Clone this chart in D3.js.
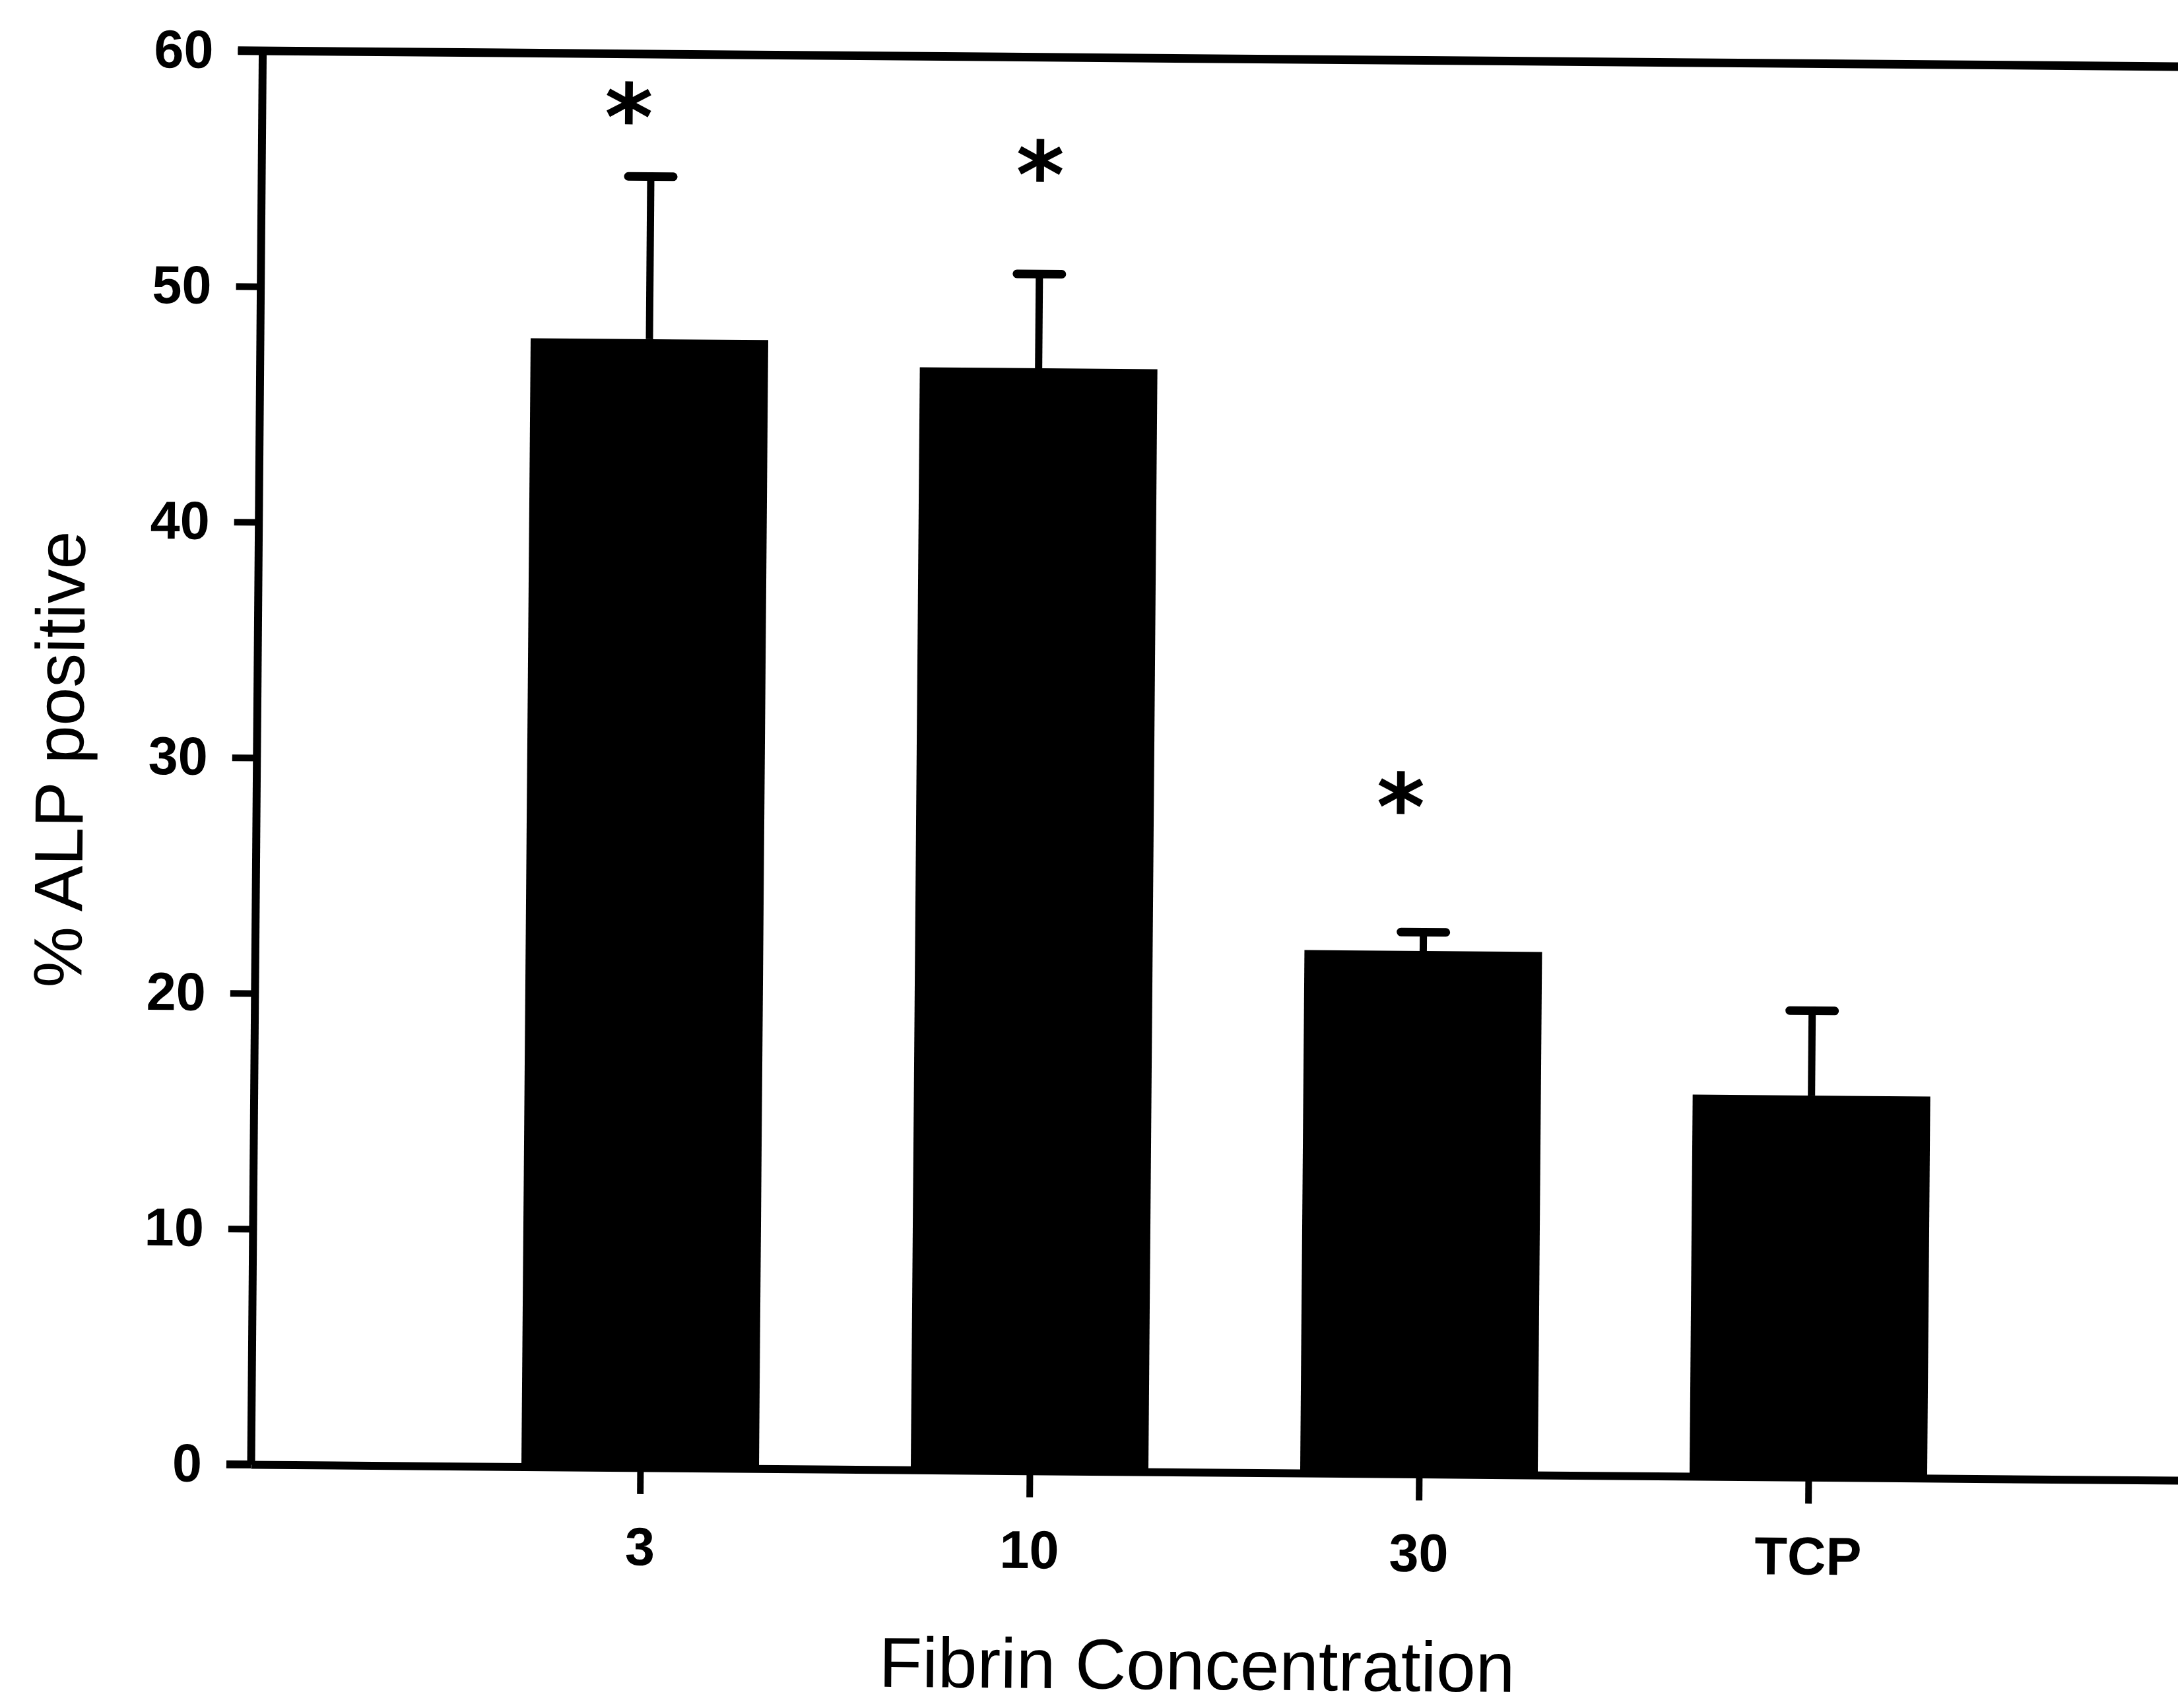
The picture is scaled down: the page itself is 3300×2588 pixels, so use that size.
<!DOCTYPE html>
<html>
<head>
<meta charset="utf-8">
<script src="https://cdn.jsdelivr.net/npm/d3@7"></script>
<style>
  body { margin: 0; background: #fff; }
</style>
</head>
<body>
<svg id="chart" width="3300" height="2588"></svg>
<script>
// values
const categories = ["3", "10", "30", "TCP"];
const alpPositive = [47.9, 46.8, 22.2, 16.2];
const alpError = [6.9, 4.0, 0.8, 3.6];
const starLevels = [57.8, 55.5, 28.8, null];
const yTicks = [0, 10, 20, 30, 40, 50, 60];

const font = "'Liberation Sans', Arial, sans-serif";
const plotH = 2142;

const svg = d3.select("#chart");

// the scanned figure is tilted by about half a degree
const g = svg.append("g")
  .attr("transform", `translate(380,77) rotate(0.47 0 ${plotH})`);

const x = d3.scaleLinear().domain([0, 5]).range([0, 2950]);
const y = d3.scaleLinear().domain([0, 60]).range([plotH, 0]);

const barW = 360;

// bars
g.selectAll("rect.bar")
  .data(alpPositive)
  .enter().append("rect")
  .attr("class", "bar")
  .attr("x", (d, i) => x(i + 1) - barW / 2)
  .attr("y", d => y(d))
  .attr("width", barW)
  .attr("height", d => y(0) - y(d))
  .attr("fill", "#000");

// error bars, upper half only
const err = g.selectAll("g.err")
  .data(alpPositive)
  .enter().append("g")
  .attr("class", "err");

err.append("line")
  .attr("x1", (d, i) => x(i + 1))
  .attr("x2", (d, i) => x(i + 1))
  .attr("y1", d => y(d))
  .attr("y2", (d, i) => y(d + alpError[i]))
  .attr("stroke", "#000")
  .attr("stroke-width", 11);

err.append("line")
  .attr("x1", (d, i) => x(i + 1) - 34)
  .attr("x2", (d, i) => x(i + 1) + 34)
  .attr("y1", (d, i) => y(d + alpError[i]))
  .attr("y2", (d, i) => y(d + alpError[i]))
  .attr("stroke", "#000")
  .attr("stroke-width", 13)
  .attr("stroke-linecap", "round");

// significance marks
const starShift = [-34, 0, -36, 0];
g.selectAll("text.star")
  .data(starLevels.map((v, i) => ({ v, i })).filter(d => d.v !== null))
  .enter().append("text")
  .attr("class", "star")
  .attr("x", d => x(d.i + 1) + starShift[d.i])
  .attr("y", d => y(d.v))
  .attr("dy", "0.48em")
  .attr("text-anchor", "middle")
  .attr("font-family", "'DejaVu Sans', sans-serif")
  .attr("font-weight", "bold")
  .attr("font-size", 140)
  .text("*");

// y axis
const yAxis = g.append("g")
  .call(d3.axisLeft(y).tickValues(yTicks).tickSize(37).tickSizeOuter(0).tickPadding(37));

// x axis
const xAxis = g.append("g")
  .attr("transform", `translate(0,${plotH})`)
  .call(d3.axisBottom(x).tickValues([1, 2, 3, 4])
    .tickFormat(i => categories[i - 1])
    .tickSize(40).tickSizeOuter(0).tickPadding(50));

[yAxis, xAxis].forEach(a => {
  a.attr("font-family", font).attr("font-size", 81);
  a.select(".domain").attr("stroke", "#000").attr("stroke-width", 12);
  a.selectAll(".tick line").attr("stroke", "#000").attr("stroke-width", 10);
  a.selectAll(".tick text").attr("fill", "#000").attr("font-weight", "bold");
});

// left stub of the base line and the top frame line
g.append("line")
  .attr("x1", -37).attr("x2", 0)
  .attr("y1", y(0)).attr("y2", y(0))
  .attr("stroke", "#000").attr("stroke-width", 12);

g.append("line")
  .attr("x1", -37).attr("x2", x.range()[1])
  .attr("y1", y(60)).attr("y2", y(60))
  .attr("stroke", "#000").attr("stroke-width", 13);

// axis titles
g.append("text")
  .attr("x", 1436)
  .attr("y", plotH + 329)
  .attr("text-anchor", "middle")
  .attr("font-family", font)
  .attr("font-size", 107)
  .text("Fibrin Concentration");

g.append("text")
  .attr("transform", `translate(-299,1076) rotate(-90)`)
  .attr("text-anchor", "middle")
  .attr("dy", "0.35em")
  .attr("font-family", font)
  .attr("font-size", 104)
  .text("% ALP positive");
</script>
</body>
</html>
